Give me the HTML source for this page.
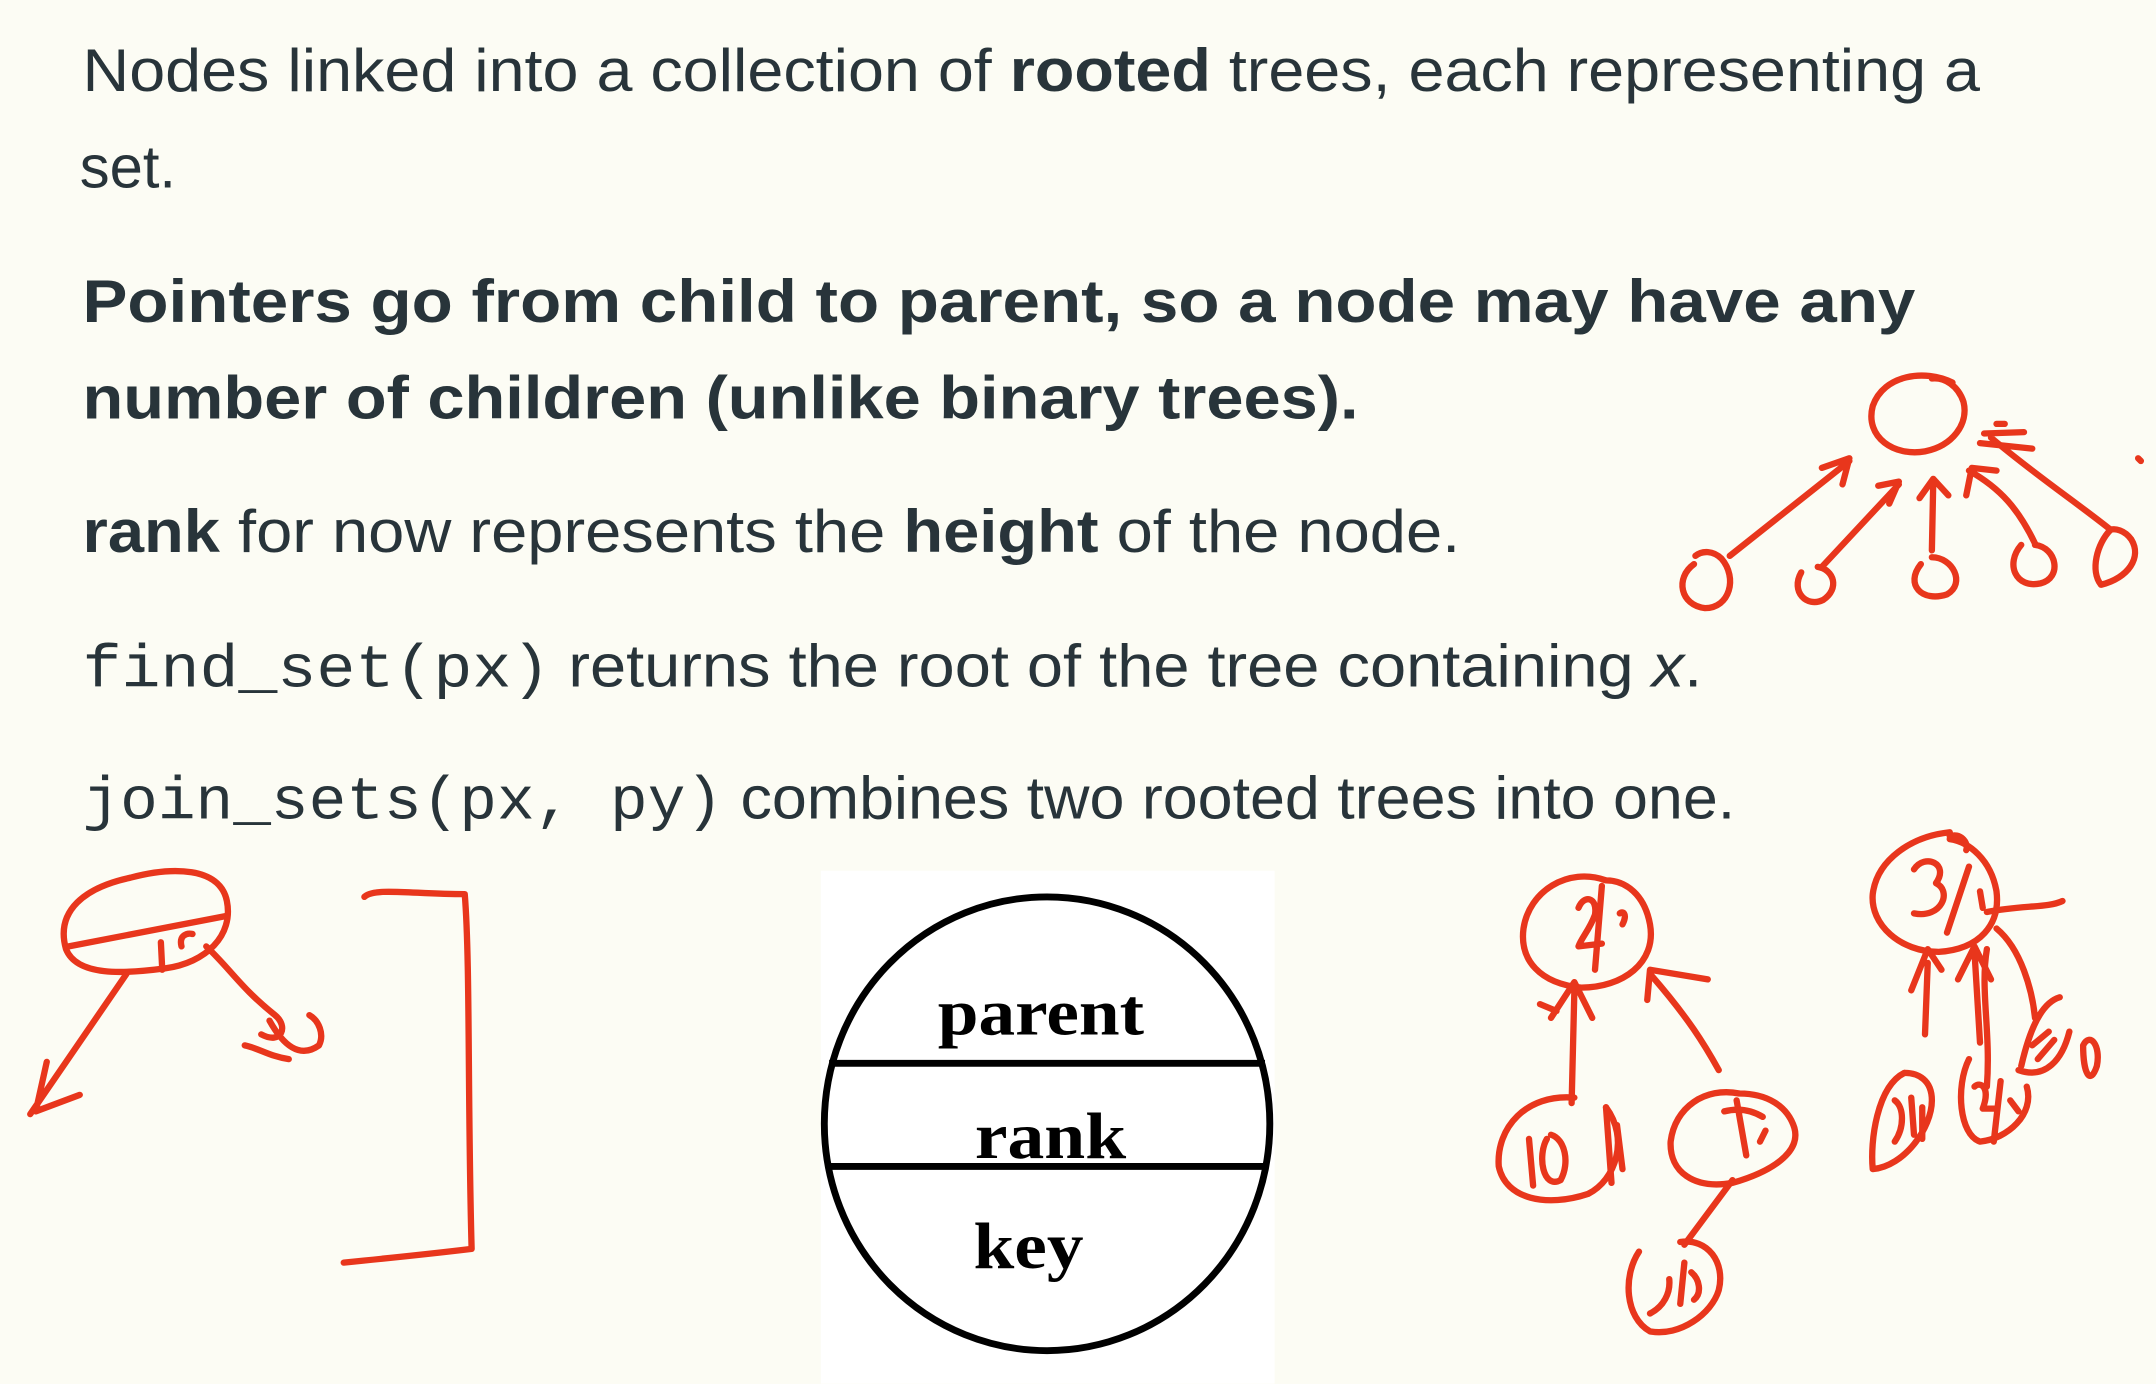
<!DOCTYPE html>
<html><head><meta charset="utf-8"><style>
html,body{margin:0;padding:0;background:#fcfcf4;}
svg{display:block;}
</style></head><body>
<svg width="2156" height="1384" viewBox="0 0 1568 1006" xmlns="http://www.w3.org/2000/svg">
<rect width="1568" height="1006" fill="#fcfcf4"/>
<g fill="#28343a" font-family="'Liberation Sans',sans-serif" font-size="44">
<text x="60" y="66" textLength="1380" lengthAdjust="spacingAndGlyphs">Nodes linked into a collection of <tspan font-weight="bold">rooted</tspan> trees, each representing a</text>
<text x="58" y="136" textLength="70" lengthAdjust="spacingAndGlyphs">set.</text>
<text x="60" y="234" font-weight="bold" textLength="1333" lengthAdjust="spacingAndGlyphs">Pointers go from child to parent, so a node may have any</text>
<text x="60" y="304" font-weight="bold" textLength="928" lengthAdjust="spacingAndGlyphs">number of children (unlike binary trees).</text>
<text x="60" y="401" textLength="1002" lengthAdjust="spacingAndGlyphs"><tspan font-weight="bold">rank</tspan> for now represents the <tspan font-weight="bold">height</tspan> of the node.</text>
<text x="60" y="499" textLength="1178" lengthAdjust="spacingAndGlyphs"><tspan font-family="'Liberation Mono',monospace">find_set(px)</tspan> returns the root of the tree containing <tspan font-style="italic">x</tspan>.</text>
<text x="60" y="595" textLength="1202" lengthAdjust="spacingAndGlyphs"><tspan font-family="'Liberation Mono',monospace">join_sets(px, py)</tspan> combines two rooted trees into one.</text>
</g>
<rect x="597" y="633" width="330" height="373" fill="#ffffff"/>
<ellipse cx="761.5" cy="817" rx="162" ry="165" fill="none" stroke="#000" stroke-width="5"/>
<line x1="603" y1="773" x2="920" y2="773" stroke="#000" stroke-width="5"/>
<line x1="601" y1="848" x2="922" y2="848" stroke="#000" stroke-width="5"/>
<g font-family="'Liberation Serif',serif" font-weight="bold" font-size="48" fill="#000" text-anchor="middle">
<text x="757" y="752" textLength="150" lengthAdjust="spacingAndGlyphs">parent</text>
<text x="764" y="842" textLength="110" lengthAdjust="spacingAndGlyphs">rank</text>
<text x="748" y="922" textLength="80" lengthAdjust="spacingAndGlyphs">key</text>
</g>
<g fill="none" stroke="#e8361c" stroke-width="4.6" stroke-linecap="round" stroke-linejoin="round">
<path d="M1420,278 C1400,268 1370,272 1362,295 C1356,318 1378,332 1400,328 C1420,324 1432,308 1428,292 C1424,280 1414,274 1405,275"/>
<path d="M1232,410 C1218,420 1222,440 1240,442 C1258,442 1264,420 1252,406 C1246,400 1238,400 1233,404"/>
<path d="M1258,404 L1345,335 M1325,340 L1345,333 L1340,352"/>
<path d="M1310,416 C1302,430 1314,442 1326,436 C1338,428 1334,414 1322,412"/>
<path d="M1325,412 L1381,352 M1366,353 L1381,350 L1374,366"/>
<path d="M1397,410 C1385,425 1398,438 1416,432 C1430,424 1420,405 1405,405"/>
<path d="M1405,400 L1406,350 M1396,362 L1406,348 L1417,360"/>
<path d="M1470,396 C1458,410 1466,428 1484,424 C1500,420 1496,398 1480,396"/>
<path d="M1480,395 C1468,370 1455,355 1432,342 M1430,360 L1434,340 L1452,342 M1440,322 L1478,326"/>
<path d="M1535,385 C1525,395 1520,415 1528,425 C1548,420 1558,405 1550,392 C1545,385 1538,384 1535,385"/>
<path d="M1535,385 C1510,365 1480,345 1448,318 M1443,315 L1472,314 M1452,308 L1458,308 M1555,333 L1557,335"/>
<path d="M48,690 C40,662 62,645 95,638 C125,630 160,630 165,655 C170,680 150,700 120,704 C90,708 56,710 48,690 Z"/>
<path d="M50,688 L164,666 M117,685 L118,705 M132,688 C130,680 136,678 140,679"/>
<path d="M92,708 L22,810 M34,772 L26,808 L58,796"/>
<path d="M150,688 C168,705 175,718 200,738 C210,746 205,760 190,752 M196,742 C206,760 218,770 232,760 C236,752 232,742 225,738 M178,760 C188,762 196,768 210,770"/>
<path d="M265,652 C272,645 300,650 338,650 C342,700 340,800 343,908 C310,912 280,915 250,918"/>
<path d="M1168,640 C1140,630 1112,648 1108,675 C1105,698 1120,715 1150,718 C1180,718 1205,700 1200,672 C1196,650 1182,640 1168,640"/>
<path d="M1148,660 C1152,650 1162,652 1160,665 C1156,676 1150,682 1148,688 L1165,686 M1165,644 L1160,705 M1178,664 C1180,662 1184,664 1180,672"/>
<path d="M1143,802 L1145,720 M1128,740 L1145,714 L1158,740 M1120,730 L1132,735"/>
<path d="M1250,778 C1240,760 1228,740 1200,708 M1198,727 L1200,705 L1242,712"/>
<path d="M1145,798 C1110,795 1088,820 1090,848 C1095,872 1125,878 1155,868 C1175,858 1185,828 1168,805"/>
<path d="M1112,828 L1115,862 M1125,828 C1118,840 1122,865 1135,858 C1142,845 1138,828 1128,825 M1168,805 L1172,860 M1176,818 L1180,850"/>
<path d="M1265,795 C1240,790 1218,805 1215,830 C1214,852 1232,865 1260,860 C1288,852 1310,838 1305,820 C1300,804 1285,795 1265,795"/>
<path d="M1263,800 L1270,840 M1254,808 C1262,806 1272,806 1282,812 M1280,830 L1284,822"/>
<path d="M1260,858 L1225,905"/>
<path d="M1192,910 C1180,928 1182,958 1200,968 C1222,972 1245,955 1250,938 C1255,918 1242,900 1222,903"/>
<path d="M1200,955 C1210,950 1215,940 1214,930 M1225,918 L1222,948 M1230,925 C1236,930 1238,940 1232,945"/>
<path d="M1418,605 C1390,608 1365,625 1362,650 C1360,672 1382,692 1410,692 C1440,690 1455,672 1452,648 C1448,625 1432,612 1418,610 M1418,608 C1425,605 1432,612 1430,618"/>
<path d="M1392,632 C1400,620 1418,628 1408,642 C1420,648 1412,668 1392,664 M1432,630 L1416,678 M1440,648 L1442,660"/>
<path d="M1445,663 C1470,658 1490,660 1500,655 M1452,675 C1470,690 1478,720 1480,740"/>
<path d="M1400,752 L1402,700 M1390,720 L1402,690 L1412,705"/>
<path d="M1440,758 L1436,692 M1424,712 L1436,688 L1448,712"/>
<path d="M1445,690 C1440,720 1448,750 1445,790"/>
<path d="M1385,780 C1365,790 1360,830 1362,850 C1385,848 1405,820 1405,800 C1405,785 1395,780 1385,780"/>
<path d="M1378,800 C1385,805 1385,820 1378,830 M1390,798 L1392,825 M1398,805 L1398,828"/>
<path d="M1432,770 C1422,790 1425,825 1440,830 C1460,828 1480,810 1474,790"/>
<path d="M1436,790 C1440,786 1448,790 1442,806 L1452,806 M1455,786 L1450,830 M1462,800 L1468,808"/>
<path d="M1470,775 C1478,740 1488,728 1498,725 M1468,778 C1488,785 1500,770 1505,750 M1478,760 L1490,750 M1482,770 L1494,756 M1515,760 C1520,750 1528,760 1525,775 C1520,790 1515,780 1515,760"/>
</g>
</svg>
</body></html>
